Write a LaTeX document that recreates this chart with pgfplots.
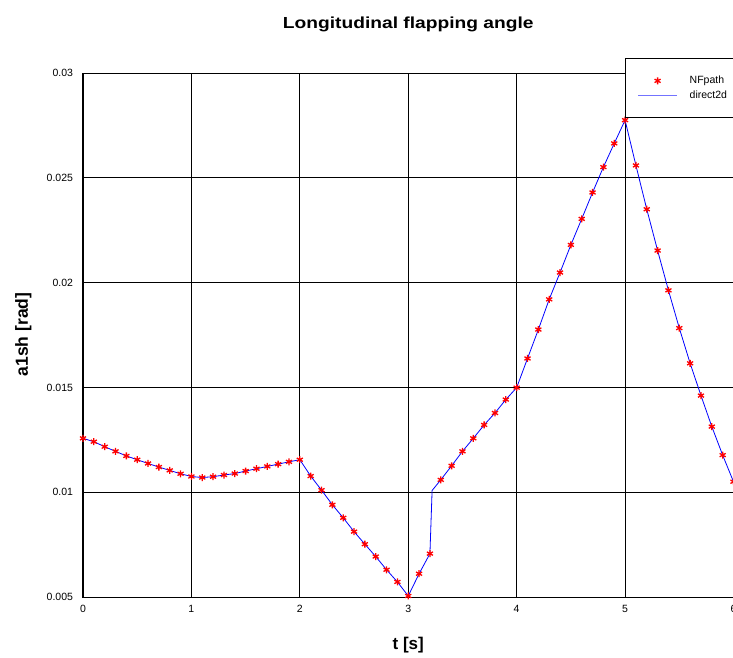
\documentclass[border=0pt]{standalone}
\usepackage{fontspec}
\setmainfont{Liberation Sans}
\usepackage{pgfplots}
\pgfplotsset{compat=1.18}
\begin{document}
\begin{tikzpicture}
\useasboundingbox (-83pt,-60pt) rectangle (650pt,597pt);
\clip (-83pt,-60pt) rectangle (650pt,597pt);
\begin{axis}[
  scale only axis, width=650.5pt, height=524pt,
  xmin=0, xmax=6, ymin=0.005, ymax=0.03,
  xtick={0,1,2,3,4,5,6}, xticklabels={0,1,2,3,4,5,6},
  ytick={0.005,0.01,0.015,0.02,0.025,0.03},
  yticklabels={0.005,0.01,0.015,0.02,0.025,0.03},
  scaled y ticks=false,
  major tick length=0pt,
  grid=major,
  major grid style={black, line width=0.9pt},
  axis line style={black, line width=1pt},
  tick label style={font=\fontsize{10.5}{12}\selectfont},
  yticklabel style={xshift=-6.5pt},
  xticklabel style={yshift=-5pt},
  title={Longitudinal flapping angle},
  title style={at={(axis description cs:0.5,1)}, anchor=base, yshift=39pt,
    font=\bfseries\fontsize{16}{18}\selectfont, xscale=1.2},
  xlabel={t [s]},
  xlabel style={at={(axis description cs:0.5,0)}, anchor=base, yshift=-52pt,
    font=\bfseries\fontsize{17}{18}\selectfont},
  ylabel={a1sh [rad]},
  ylabel style={at={([xshift=-55pt]axis description cs:0,0.501)}, anchor=base,
    font=\bfseries\fontsize{17.5}{18}\selectfont},
  legend cell align=left,
  legend style={at={(0.8332,1.028)}, anchor=north west, draw=black, line width=1pt,
    font=\fontsize{10.5}{12}\selectfont,
    inner xsep=12pt, inner ysep=17pt, row sep=5pt, column sep=12pt,
    nodes={inner sep=0pt, text height=7.5pt, text depth=2.5pt}},
]
\addplot[only marks, mark=asterisk, mark size=3.5pt, red, mark options={line width=1.3pt},
  legend image code/.code={\draw[red, line width=1.3pt] plot[mark=asterisk, mark size=3.5pt, only marks] coordinates {(19.5pt,0pt)};}] coordinates {
(0.0,0.01257) (0.1,0.01241) (0.2,0.01217) (0.3,0.01195) (0.4,0.01173)
(0.5,0.01155) (0.6,0.01137) (0.7,0.01120) (0.8,0.01104) (0.9,0.01088)
(1.0,0.01075) (1.1,0.01070) (1.2,0.01074) (1.3,0.01082) (1.4,0.01089)
(1.5,0.01101) (1.6,0.01112) (1.7,0.01123) (1.8,0.01134) (1.9,0.01145)
(2.0,0.01155) (2.1,0.01077) (2.2,0.01010) (2.3,0.00940) (2.4,0.00878)
(2.5,0.00812) (2.6,0.00752) (2.7,0.00693) (2.8,0.00630) (2.9,0.00572)
(3.0,0.00505) (3.1,0.00611) (3.2,0.00707) (3.3,0.01059) (3.4,0.01126)
(3.5,0.01195) (3.6,0.01257) (3.7,0.01321) (3.8,0.01378) (3.9,0.01442)
(4.0,0.01499) (4.1,0.01638) (4.2,0.01776) (4.3,0.01920) (4.4,0.02048)
(4.5,0.02180) (4.6,0.02304) (4.7,0.02430) (4.8,0.02551) (4.9,0.02664)
(5.0,0.02775) (5.1,0.02559) (5.2,0.02350) (5.3,0.02153) (5.4,0.01963)
(5.5,0.01783) (5.6,0.01615) (5.7,0.01461) (5.8,0.01313) (5.9,0.01177)
(6.0,0.01050)
};
\addlegendentry{NFpath}
\addplot[blue, line width=0.8pt, no marks,
  legend image code/.code={\draw[blue!55, line width=1.2pt] (0pt,0pt) -- (39pt,0pt);}] coordinates {
(0.0,0.01257) (0.1,0.01241) (0.2,0.01217) (0.3,0.01195) (0.4,0.01173)
(0.5,0.01155) (0.6,0.01137) (0.7,0.01120) (0.8,0.01104) (0.9,0.01088)
(1.0,0.01075) (1.1,0.01070) (1.2,0.01074) (1.3,0.01082) (1.4,0.01089)
(1.5,0.01101) (1.6,0.01112) (1.7,0.01123) (1.8,0.01134) (1.9,0.01145)
(2.0,0.01155) (2.1,0.01077) (2.2,0.01010) (2.3,0.00940) (2.4,0.00878)
(2.5,0.00812) (2.6,0.00752) (2.7,0.00693) (2.8,0.00630) (2.9,0.00572)
(3.0,0.00505) (3.1,0.00611) (3.2,0.00707) (3.22,0.01008) (3.3,0.01059) (3.4,0.01126)
(3.5,0.01195) (3.6,0.01257) (3.7,0.01321) (3.8,0.01378) (3.9,0.01442)
(4.0,0.01499) (4.1,0.01638) (4.2,0.01776) (4.3,0.01920) (4.4,0.02048)
(4.5,0.02180) (4.6,0.02304) (4.7,0.02430) (4.8,0.02551) (4.9,0.02664)
(5.0,0.02775) (5.1,0.02559) (5.2,0.02350) (5.3,0.02153) (5.4,0.01963)
(5.5,0.01783) (5.6,0.01615) (5.7,0.01461) (5.8,0.01313) (5.9,0.01177)
(6.0,0.01050)
};
\addlegendentry{direct2d}
\end{axis}
\end{tikzpicture}
\end{document}
